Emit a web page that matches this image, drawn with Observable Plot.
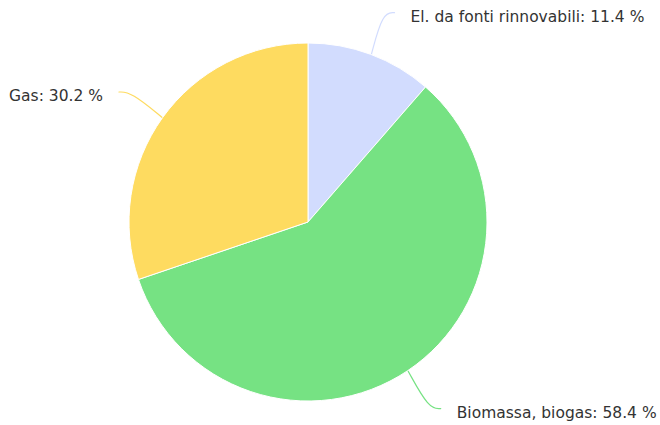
<!DOCTYPE html>
<html><head><meta charset="utf-8">
<script src="https://cdn.jsdelivr.net/npm/d3@7"></script>
<script src="https://cdn.jsdelivr.net/npm/@observablehq/plot@0.6"></script>
<style>body{margin:0;background:#fff}</style>
</head><body><div id="chart"></div>
<script>
const categories = ["El. da fonti rinnovabili", "Biomassa, biogas", "Gas"];
const values = [11.4, 58.4, 30.2];
const colors = ["#d2dcfe", "#76e283", "#fedb60"];

const W = 660, H = 425, CX = 308, CY = 222, R = 179, LR = 224;
const arcs = d3.pie().sort(null).value(d => d)(values);
const rows = arcs.map((a, i) => {
  const mid = (a.startAngle + a.endAngle) / 2;
  const ex = R * Math.sin(mid), ey = R * Math.cos(mid);
  const side = ex >= 0 ? 1 : -1;
  const ly = LR * Math.cos(mid);
  const lx = LR * Math.sin(mid) + side * 7.5;
  return {cat: categories[i], value: values[i], color: colors[i], a, mid, ex, ey, lx, ly, side,
          label: `${categories[i]}: ${values[i].toFixed(1)} %`};
});
const conn = rows.flatMap(r => [
  {cat: r.cat, x: r.ex, y: r.ey, c: r.color},
  {cat: r.cat, x: r.lx - r.side * 12, y: r.ly, c: r.color},
  {cat: r.cat, x: r.lx, y: r.ly, c: r.color}
]);

const slices = (index, scales) => {
  const g = d3.create("svg:g");
  const cx = scales.x(0), cy = scales.y(0), rr = scales.x(R) - scales.x(0);
  const arc = d3.arc().innerRadius(0).outerRadius(rr);
  g.attr("transform", `translate(${cx},${cy})`)
   .selectAll("path").data(rows).join("path")
   .attr("d", d => arc(d.a)).attr("fill", d => d.color)
   .attr("stroke", "#fff").attr("stroke-width", 1).attr("stroke-linejoin", "round");
  return g.node();
};

const textOpts = {y: d => d.ly - 4, text: "label", fill: "#333", fontSize: 15.5, lineAnchor: "middle"};
const chart = Plot.plot({
  width: W, height: H,
  margin: 0,
  x: {domain: [-CX, W - CX], range: [0, W], axis: null},
  y: {domain: [-(H - CY), CY], range: [H, 0], axis: null},
  style: {fontFamily: "'DejaVu Sans', Verdana, sans-serif", fontSize: "15.5px", background: "#fff"},
  marks: [
    Plot.line(conn, {x: "x", y: "y", z: "cat", stroke: d => d.c, strokeWidth: 1.2, curve: "basis"}),
    slices,
    Plot.text(rows.filter(d => d.side > 0), {...textOpts, x: d => d.lx + 16, textAnchor: "start"}),
    Plot.text(rows.filter(d => d.side < 0), {...textOpts, x: d => d.lx - 16, textAnchor: "end"})
  ]
});
document.getElementById("chart").append(chart);
</script></body></html>
